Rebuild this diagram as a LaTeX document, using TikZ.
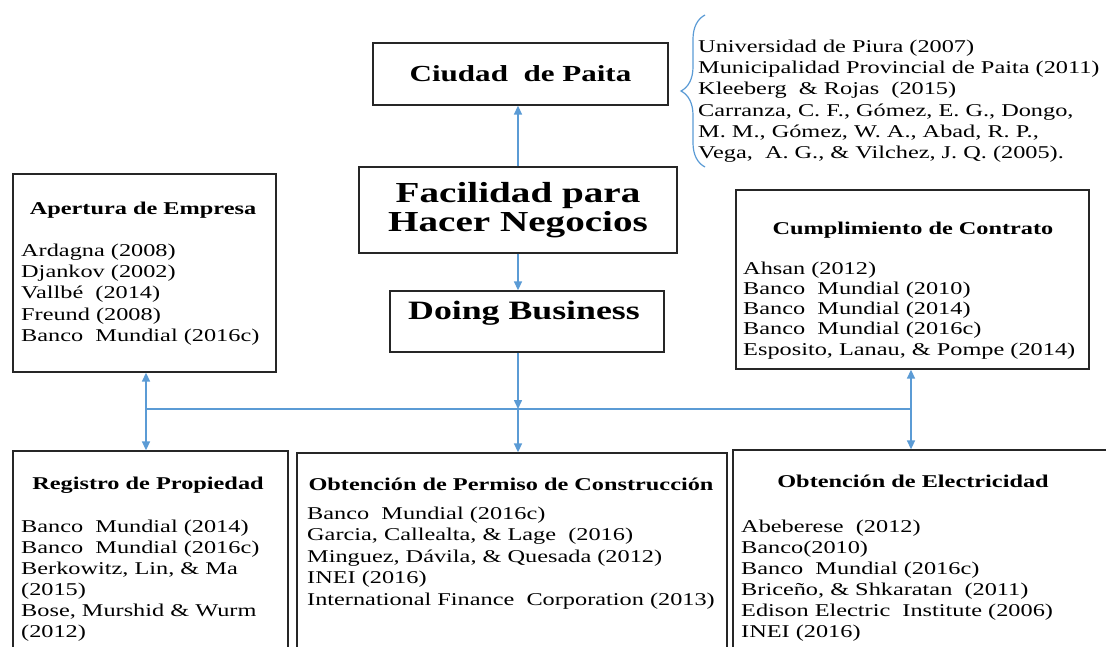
\documentclass[tikz,border=0pt]{standalone}
\usepackage{fontspec}
\setmainfont{Liberation Serif}[FakeStretch=1.35]
\usetikzlibrary{arrows.meta,decorations.pathreplacing}
\definecolor{arrblue}{HTML}{5B9BD5}
\tikzset{
  box/.style={draw=black!85, line width=1.3pt, inner sep=0pt},
  ref/.style={inner sep=0pt, anchor=base west, font=\fontsize{18}{21}\selectfont},
  ttl/.style={inner sep=0pt, anchor=base, font=\fontsize{18}{21}\selectfont\bfseries},
  arr/.style={draw=arrblue, line width=1.5pt, -{Triangle[length=9pt,width=8pt]}},
  conn/.style={draw=arrblue, line width=1.5pt},
}
\begin{document}
\begin{tikzpicture}[x=1pt,y=-1pt]
\useasboundingbox (0,0) rectangle (1106,646);
\clip (0,0) rectangle (1106,646);
% boxes
\node[box, minimum width=295pt, minimum height=62pt, font=\fontsize{23}{26}\selectfont\bfseries] (cdp) at (520.5,74) {Ciudad~ de Paita};
\node[box, minimum width=318pt, minimum height=86pt, align=center, font=\fontsize{29}{29}\selectfont\bfseries] (fac) at (518,210) {Facilidad para\\Hacer Negocios};
\node[box, minimum width=274pt, minimum height=61pt] (db) at (527,321.5) {};
\node[inner sep=0pt, anchor=base, font=\fontsize{26.5}{28}\selectfont\bfseries] (dbt) at (524,319) {Doing Business};
\node[box, minimum width=263pt, minimum height=198pt] (ape) at (144.5,273) {};
\node[box, minimum width=353pt, minimum height=179pt] (cum) at (912.5,279.5) {};
\node[box, minimum width=275pt, minimum height=219pt] (reg) at (150.5,560.5) {};
\node[box, minimum width=430pt, minimum height=217pt] (per) at (512,561.5) {};
\node[box, minimum width=387pt, minimum height=220pt] (ele) at (926.5,560) {};
% titles
\node[ttl] (apet) at (143,214) {Apertura de Empresa};
\node[ttl] (cumt) at (913,234) {Cumplimiento de Contrato};
\node[ttl] (regt) at (148,489) {Registro de Propiedad};
\node[ttl] (pert) at (511,490) {Obtención de Permiso de Construcción};
\node[ttl] (elet) at (913,487) {Obtención de Electricidad};
% reference lists
\foreach \t [count=\i] in {{Ardagna (2008)},{Djankov (2002)},{Vallbé~ (2014)},{Freund (2008)},{Banco~ Mundial (2016c)}}
  \node[ref] (apel\i) at (21,{256+(\i-1)*21.4}) {\t};
\foreach \t [count=\i] in {{Ahsan (2012)},{Banco~ Mundial (2010)},{Banco~ Mundial (2014)},{Banco~ Mundial (2016c)},{Esposito, Lanau, \& Pompe (2014)}}
  \node[ref] (cuml\i) at (743,{274+(\i-1)*20.3}) {\t};
\foreach \t [count=\i] in {{Banco~ Mundial (2014)},{Banco~ Mundial (2016c)},{Berkowitz, Lin, \& Ma},{(2015)},{Bose, Murshid \& Wurm},{(2012)}}
  \node[ref] (regl\i) at (21,{532+(\i-1)*21.1}) {\t};
\foreach \t [count=\i] in {{Banco~ Mundial (2016c)},{Garcia, Callealta, \& Lage~ (2016)},{Minguez, Dávila, \& Quesada (2012)},{INEI (2016)},{International Finance~ Corporation (2013)}}
  \node[ref] (perl\i) at (307,{519+(\i-1)*21.5}) {\t};
\foreach \t [count=\i] in {{Abeberese~ (2012)},{Banco(2010)},{Banco~ Mundial (2016c)},{Briceño, \& Shkaratan~ (2011)},{Edison Electric~ Institute (2006)},{INEI (2016)}}
  \node[ref] (elel\i) at (741,{532+(\i-1)*21}) {\t};
\foreach \t [count=\i] in {{Universidad de Piura (2007)},{Municipalidad Provincial de Paita (2011)},{Kleeberg~ \& Rojas~ (2015)},{Carranza, C. F., Gómez, E. G., Dongo,},{M. M., Gómez, W. A., Abad, R. P.,},{Vega,~ A. G., \& Vilchez, J. Q. (2005).}}
  \node[ref] (cdpl\i) at (698,{52.7+(\i-1)*21.1}) {\t};
% brace
\coordinate (bt) at (705,15);
\coordinate (bb) at (705,167);
\draw[arrblue, line width=1.2pt, decorate, decoration={brace, amplitude=24pt}] (bb) -- (bt);
% connectors
\draw[arr] (fac.north) -- (fac.north |- cdp.south);
\draw[arr] (fac.south) -- (fac.south |- db.north);
\coordinate (jc) at (518,409);
\coordinate (jl) at (146,409);
\coordinate (jr) at (911,409);
\draw[conn] (jl) -- (jr);
\draw[arr] (db.south -| jc) -- (jc);
\draw[arr] (jc) -- (jc |- per.north);
\draw[arr] (jl) -- (jl |- ape.south);
\draw[arr] (jl) -- (jl |- reg.north);
\draw[arr] (jr) -- (jr |- cum.south);
\draw[arr] (jr) -- (jr |- ele.north);
\end{tikzpicture}
\end{document}
